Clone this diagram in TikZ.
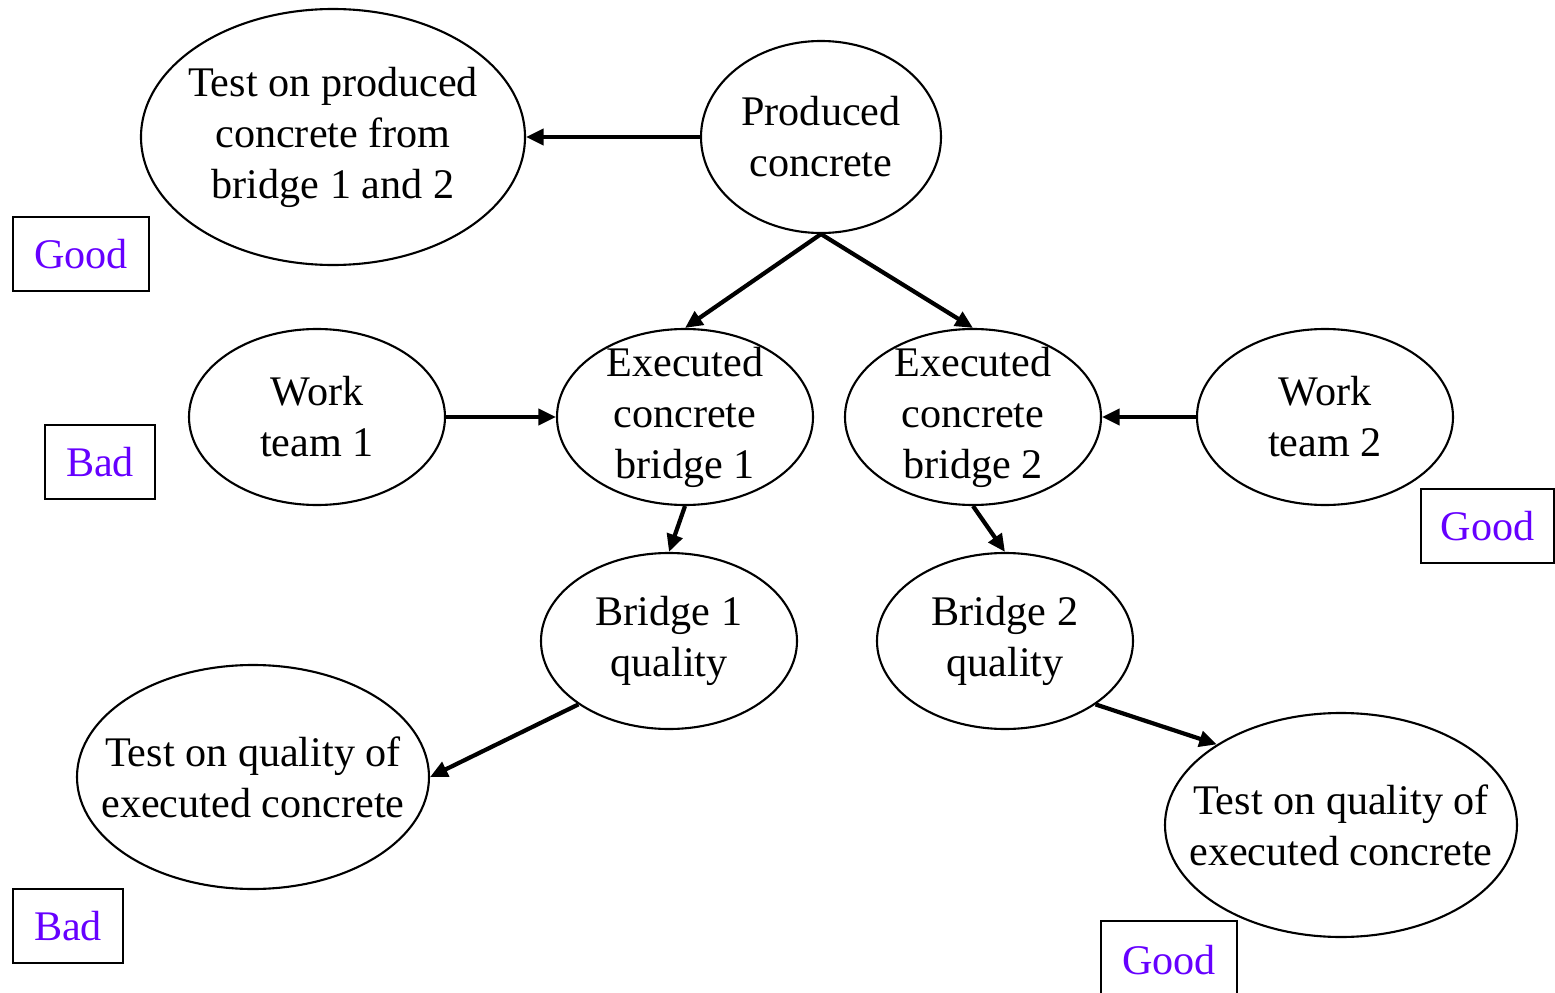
\documentclass[tikz,border=0pt]{standalone}
\usepackage{fontspec}
\setmainfont{Liberation Serif}
\usetikzlibrary{arrows.meta,shapes.geometric}
\definecolor{Violet}{HTML}{6600FF}

\begin{document}
\begin{tikzpicture}[x=1cm,y=1cm,
    blob/.style={ellipse,draw,line width=0.6pt,inner sep=-0.4cm,align=center,
      font=\fontsize{12}{14.5}\selectfont},
    verdict/.style={draw,line width=0.8pt,inner sep=0pt,text=Violet,
      minimum height=0.74cm,font=\fontsize{12}{14.5}\selectfont},
    flow/.style={-{Triangle[length=5pt,width=4.5pt]},line width=1.2pt}]
    \useasboundingbox (0,0) rectangle (15.55,-9.93);
    % ellipses
    \node[blob,minimum width=3.84cm,minimum height=2.56cm] (tprod) at (3.33,-1.37)
      {Test on produced\\concrete from\\bridge 1 and 2};
    \node[blob,minimum width=2.40cm,minimum height=1.92cm] (prod) at (8.21,-1.37)
      {Produced\\concrete};
    \node[blob,minimum width=2.56cm,minimum height=1.76cm] (wt1) at (3.17,-4.17)
      {Work\\team 1};
    \node[blob,minimum width=2.56cm,minimum height=1.76cm] (eb1) at (6.85,-4.17)
      {Executed\\concrete\\bridge 1};
    \node[blob,minimum width=2.56cm,minimum height=1.76cm] (eb2) at (9.73,-4.17)
      {Executed\\concrete\\bridge 2};
    \node[blob,minimum width=2.56cm,minimum height=1.76cm] (wt2) at (13.25,-4.17)
      {Work\\team 2};
    \node[blob,minimum width=2.56cm,minimum height=1.76cm] (bq1) at (6.69,-6.41)
      {Bridge 1\\quality};
    \node[blob,minimum width=2.56cm,minimum height=1.76cm] (bq2) at (10.05,-6.41)
      {Bridge 2\\quality};
    \node[blob,minimum width=3.52cm,minimum height=2.24cm] (tq1) at (2.53,-7.77)
      {Test on quality of\\executed concrete};
    \node[blob,minimum width=3.52cm,minimum height=2.24cm] (tq2) at (13.41,-8.25)
      {Test on quality of\\executed concrete};
    % verdict boxes
    \node[verdict,minimum width=1.36cm] (g1) at (0.81,-2.54) {Good};
    \node[verdict,minimum width=1.10cm] (b1) at (1.00,-4.62) {Bad};
    \node[verdict,minimum width=1.33cm] (g2) at (14.875,-5.26) {Good};
    \node[verdict,minimum width=1.10cm] (b2) at (0.68,-9.26) {Bad};
    \node[verdict,minimum width=1.36cm,minimum height=0.80cm] (g3) at (11.69,-9.61) {};
    \node[text=Violet,font=\fontsize{12}{14.5}\selectfont] (g3t) at (11.69,-9.60) {Good};
    % arrows
    \draw[flow] (prod.west) -- (tprod.east);
    \draw[flow] (prod.south) -- (eb1.north);
    \draw[flow] (prod.south) -- (eb2.north);
    \draw[flow] (wt1.east) -- (eb1.west);
    \draw[flow] (wt2.west) -- (eb2.east);
    \draw[flow] (eb1.south) -- (bq1.north);
    \draw[flow] (eb2.south) -- (bq2.north);
    \draw[flow] (bq1.215) -- (tq1.east);
    \draw[flow] (bq2.325) -- (tq2.147);
  \end{tikzpicture}
\end{document}
